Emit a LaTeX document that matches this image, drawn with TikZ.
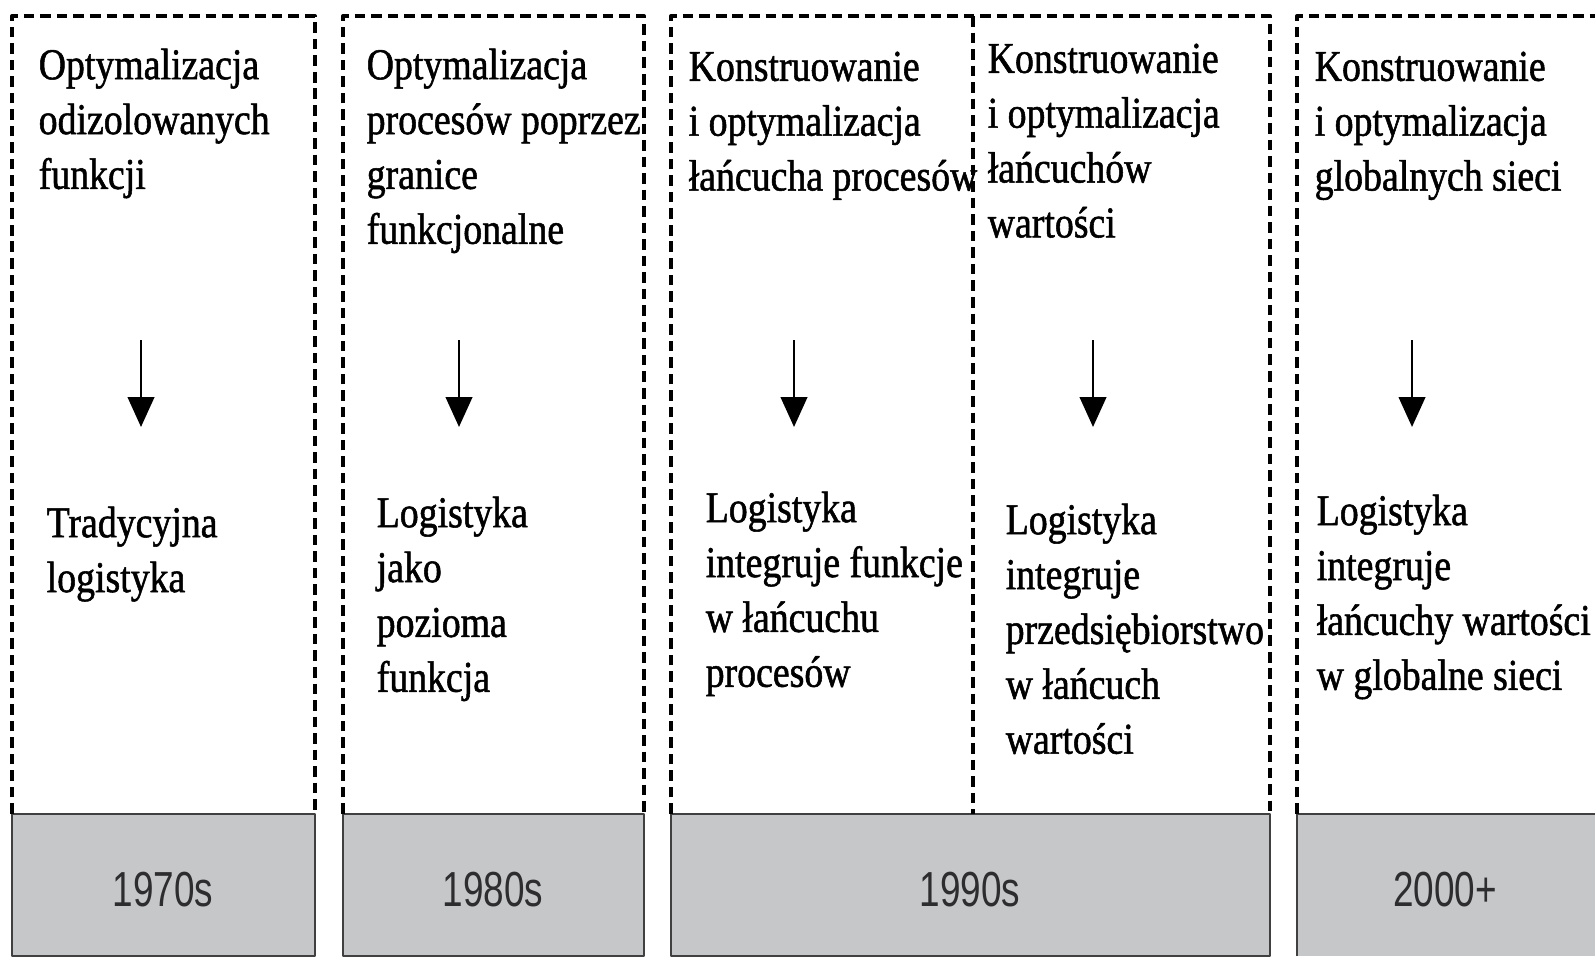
\documentclass[tikz,border=0pt]{standalone}
\usepackage{fontspec}
\setmainfont{Liberation Serif}[FakeStretch=0.86,FakeBold=1.2]
\newfontfamily\yearfont{Liberation Sans}[FakeStretch=0.75]
\usetikzlibrary{arrows.meta}
\definecolor{yeargray}{RGB}{198,199,201}
\definecolor{yeartext}{RGB}{45,45,48}
\begin{document}
\begin{tikzpicture}[x=0.01cm,y=-0.01cm,>={Triangle[width=7.5pt,length=8.5pt]}, line join=round,
	frame/.style={line width=1.1pt, dash pattern=on 3pt off 1.7pt},
	yearbox/.style={fill=yeargray, draw=black!75, line width=0.5pt},
	txt/.style={anchor=north west, align=left, inner sep=0pt, font=\fontsize{12.5}{15.6}\selectfont},
	year/.style={font=\yearfont\fontsize{14}{16}\selectfont, text=yeartext}]
		\def\ytop{16} \def\ygray{814} \def\ybot{956} % poziomy
		\useasboundingbox (0,0) rectangle (1595,958);
		% szare pola z latami
		\draw[yearbox] (12,\ygray) rectangle (315,\ybot);
		\draw[yearbox] (343,\ygray) rectangle (644,\ybot);
		\draw[yearbox] (671,\ygray) rectangle (1270,\ybot);
		\fill[yeargray] (1297,\ygray) rectangle (1595,\ybot);
		\draw[draw=black!75, line width=0.5pt] (1595,\ygray)--(1297,\ygray)--(1297,\ybot);
		% ramki przerywane
		\draw[frame] (12,\ygray)--(12,\ytop)--(315,\ytop)--(315,\ygray);
		\draw[frame] (343,\ygray)--(343,\ytop)--(644,\ytop)--(644,\ygray);
		\draw[frame] (671,\ygray)--(671,\ytop)--(1270,\ytop)--(1270,\ygray);
		\draw[frame, line width=0.9pt] (973,\ytop)--(973,\ygray);
		\draw[frame] (1297,\ygray)--(1297,\ytop)--(1595,\ytop);
		% teksty
		\node[txt] (cel1) at (38,48) {Optymalizacja\\odizolowanych\\funkcji};
		\node[txt] (log1) at (46,506) {Tradycyjna\\logistyka};
		\node[txt] (cel2) at (366,48) {Optymalizacja\\procesów poprzez\\granice\\funkcjonalne};
		\node[txt] (log2) at (376,496) {Logistyka\\jako\\pozioma\\funkcja};
		\node[txt] (cel3) at (688,51) {Konstruowanie\\i optymalizacja\\łańcucha procesów};
		\node[txt] (log3) at (705,491) {Logistyka\\integruje funkcje\\w łańcuchu\\procesów};
		\node[txt] (cel4) at (987,43) {Konstruowanie\\i optymalizacja\\łańcuchów\\wartości};
		\node[txt] (log4) at (1005,503) {Logistyka\\integruje\\przedsiębiorstwo\\w łańcuch\\wartości};
		\node[txt] (cel5) at (1314,51) {Konstruowanie\\i optymalizacja\\globalnych sieci};
		\node[txt] (log5) at (1316,494) {Logistyka\\integruje\\łańcuchy wartości\\w globalne sieci};
		% lata
		\node[year] (r70) at (163,890) {1970s};
		\node[year] (r80) at (493,890) {1980s};
		\node[year] (r90) at (970,890) {1990s};
		\node[year] (r00) at (1445,890) {2000+};
		% strzalki
		\foreach \x [count=\i] in {141,459,794,1093,1412}{
			\coordinate (s\i) at (\x,340);
			\coordinate (e\i) at (\x,427);
			\draw[->, line width=0.8pt] (s\i)--(e\i);
		}
\end{tikzpicture}
\end{document}
